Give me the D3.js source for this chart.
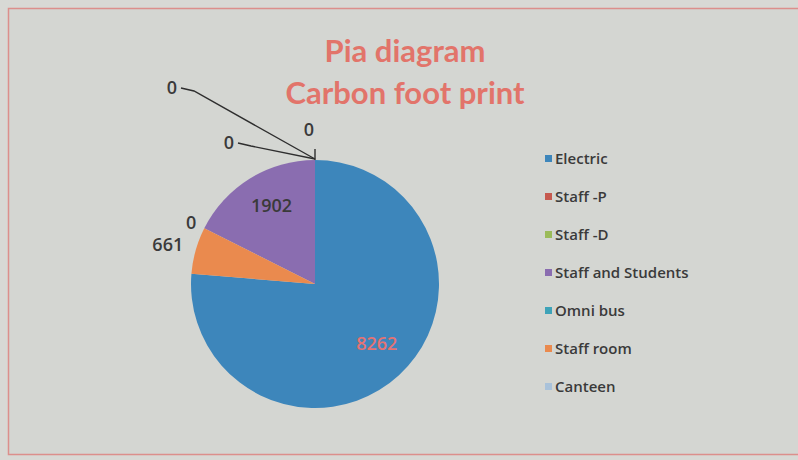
<!DOCTYPE html>
<html>
<head>
<meta charset="utf-8">
<script src="https://cdn.jsdelivr.net/npm/d3@7"></script>
<style>
  html, body { margin: 0; padding: 0; background: #d6d8d4; }
  svg { display: block; font-family: "Open Sans", Lato, sans-serif; }
</style>
</head>
<body>
<div id="chart"></div>
<script>
;(function (d3) {

    'use strict';

    // data, in legend order
    var categories = ['Electric', 'Staff -P', 'Staff -D', 'Staff and Students', 'Omni bus', 'Staff room', 'Canteen'];
    var values = [8262, 0, 0, 1902, 0, 661, 0];
    var colors = ['#3d86bb', '#c65a4f', '#9bbb59', '#8a6db0', '#3ea3b8', '#ea8a4e', '#a9c2da'];
    // order the slices run clockwise from 12 o'clock
    var sliceOrder = ['Electric', 'Staff room', 'Canteen', 'Staff and Students', 'Staff -P', 'Staff -D', 'Omni bus'];
    var titleLines = ['Pia diagram', 'Carbon foot print'];

    var width = 798, height = 460;
    var cx = 315, cy = 284, radius = 124;

    var svg = d3.select('#chart').append('svg')
        .attr('width', width)
        .attr('height', height);

    svg.append('rect').attr('width', width).attr('height', height).attr('fill', '#d8d9d5');

    // chart area border
    svg.append('rect')
        .attr('x', 8.5).attr('y', 8.5)
        .attr('width', width + 10).attr('height', 446)
        .attr('fill', '#d4d6d2')
        .attr('stroke', '#dc8f8c')
        .attr('stroke-width', 1.5);

    svg.append('g')
        .selectAll('text')
        .data(titleLines)
        .join('text')
        .attr('x', 405)
        .attr('y', function (d, i) { return 62 + i * 42; })
        .attr('text-anchor', 'middle')
        .attr('font-family', 'Lato, sans-serif')
        .attr('font-size', 31)
        .attr('font-weight', 'bold')
        .attr('fill', '#e2746a')
        .text(function (d) { return d; });

    var rows = categories.map(function (c, i) {
        return { name: c, value: values[i], color: colors[i] };
    });

    var pie = d3.pie()
        .value(function (d) { return d.value; })
        .sort(function (a, b) { return sliceOrder.indexOf(a.name) - sliceOrder.indexOf(b.name); });

    var arcs = pie(rows);

    var arc = d3.arc().innerRadius(0).outerRadius(radius);

    var g = svg.append('g').attr('transform', 'translate(' + cx + ',' + cy + ')');

    g.selectAll('path')
        .data(arcs.filter(function (a) { return a.value > 0; }))
        .join('path')
        .attr('d', arc)
        .attr('fill', function (a) { return a.data.color; });

    // labels: big slices inside, small outside, zero slices at the top fanned out with leaders
    var inner = d3.arc().innerRadius(radius * 0.7).outerRadius(radius * 0.7);
    var outer = d3.arc().innerRadius(radius * 1.2).outerRadius(radius * 1.2);
    var edge = d3.arc().innerRadius(radius * 1.1).outerRadius(radius * 1.1);
    var topSpots = [[-6, -148], [-86, -135], [-143, -190]];
    var topIdx = 0;

    arcs.forEach(function (a) {
        var share = (a.endAngle - a.startAngle) / (2 * Math.PI);
        var p, fill = '#3a3a3a';
        if (a.value > 0 && share > 0.1) {
            p = inner.centroid(a);
            if (a.data.name === 'Electric') { fill = '#e57373'; p = [p[0] + 3, p[1] + 2]; }
            else { p = [p[0] + 2, p[1] + 2]; }
        } else if (a.value > 0) {
            p = outer.centroid(a);
            p = [p[0] - 4, p[1] + 7];
        } else if (a.startAngle < 2 * Math.PI - 0.001) {
            p = edge.centroid(a);
            p = [p[0] - 2, p[1] + 6];
        } else {
            p = topSpots[topIdx];
            var tx = 0, ty = -radius;
            if (topIdx === 0) {
                g.append('line').attr('x1', tx).attr('y1', ty).attr('x2', tx).attr('y2', ty - 11)
                    .attr('stroke', '#2e2e2e').attr('stroke-width', 1.4);
            } else {
                var lx = p[0] + 9, ly = p[1] - 6;
                g.append('path')
                    .attr('d', 'M' + lx + ',' + ly + 'L' + (lx + 13) + ',' + (ly + 3) + 'L' + tx + ',' + (ty - 1))
                    .attr('fill', 'none')
                    .attr('stroke', '#2e2e2e')
                    .attr('stroke-width', 1.4);
            }
            topIdx++;
        }
        g.append('text')
            .attr('x', p[0]).attr('y', p[1])
            .attr('text-anchor', 'middle')
            .attr('font-size', 18)
            .attr('font-weight', 600)
            .attr('fill', fill)
            .text(a.value);
    });

    // legend
    var legend = svg.append('g').attr('transform', 'translate(545,159)');
    var item = legend.selectAll('g')
        .data(rows)
        .join('g')
        .attr('transform', function (d, i) { return 'translate(0,' + (i * 38) + ')'; });

    item.append('rect')
        .attr('x', 0).attr('y', -4)
        .attr('width', 7).attr('height', 7)
        .attr('fill', function (d) { return d.color; });

    item.append('text')
        .attr('x', 10).attr('y', 5)
        .attr('font-size', 15)
        .attr('font-weight', 600)
        .attr('fill', '#3a3a3a')
        .text(function (d) { return d.name; });

}(window.d3));
</script>
</body>
</html>
